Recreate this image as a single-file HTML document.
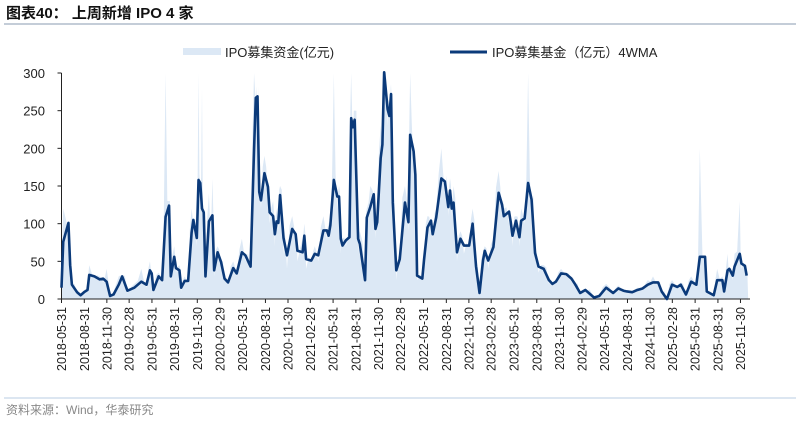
<!DOCTYPE html>
<html><head><meta charset="utf-8">
<style>
body{margin:0;background:#fff;width:800px;height:423px;overflow:hidden;font-family:"Liberation Sans","Noto Sans CJK SC",sans-serif;}
</style></head>
<body>
<svg id="c" width="800" height="423" viewBox="0 0 800 423" xmlns="http://www.w3.org/2000/svg" font-family="Liberation Sans, Noto Sans CJK SC, sans-serif">
<text x="6" y="18" font-size="15" font-weight="bold" fill="#111">图表40：  上周新增 IPO 4 家</text>
<line x1="4" y1="24" x2="796" y2="24" stroke="#8a9bb0" stroke-width="1"/>
<g>
<rect x="183" y="48" width="38" height="7" fill="#dce8f5"/>
<text x="225" y="57" font-size="13" fill="#222">IPO募集资金(亿元)</text>
<line x1="450" y1="52" x2="487" y2="52" stroke="#0b3a7a" stroke-width="3"/>
<text x="492" y="57" font-size="13" fill="#222">IPO募集基金（亿元）4WMA</text>
</g>
<g id="plot"></g>
<line x1="4" y1="398" x2="796" y2="398" stroke="#b8cde3" stroke-width="1"/>
<text x="6" y="414" font-size="12" fill="#888">资料来源：Wind，华泰研究</text>
</svg>
<script>
const weeks=[0,1,4,5,6,9,11,13,15,16,19,22,24,26,28,30,33,35,38,42,46,49,51,52,53,56,58,60,62,63,65,66,68,69,71,73,75,76,78,79,80,81,82,83,85,86,87,88,90,92,94,96,99,101,104,106,109,111,112,113,114,115,117,119,120,122,123,124,125,126,128,130,133,135,136,139,140,141,144,146,148,151,153,154,155,157,159,160,161,162,164,166,167,168,169,171,172,175,176,178,180,181,182,184,185,186,188,189,190,191,193,195,198,200,201,203,204,205,208,209,211,213,214,216,219,221,223,224,225,226,228,230,232,235,237,239,241,243,244,246,249,252,254,255,258,259,260,262,264,265,267,269,271,273,275,278,281,283,285,288,291,294,296,299,302,307,310,314,318,321,324,326,329,332,335,338,341,344,346,349,352,355,357,360,363,366,368,371,372,376,378,381,382,384,385,387,388,391,392,394,395];
const wma=[15,76,101,45,19,9,5,9,12,32,30,26,27,23,4,6,19,30,11,15,23,19,38,34,12,30,25,109,124,30,56,41,38,15,24,24,88,105,81,158,154,120,115,30,103,107,111,38,62,49,27,22,41,34,62,58,43,198,267,269,142,131,167,149,115,110,86,103,101,138,81,58,93,86,64,62,84,53,51,60,58,91,91,84,98,158,136,136,80,71,78,82,240,228,238,80,73,25,108,122,139,93,102,187,205,301,252,243,272,128,38,53,128,102,218,196,165,31,27,52,95,104,86,108,160,156,122,144,120,128,62,80,71,71,100,43,8,51,64,51,69,141,125,110,116,102,84,104,82,104,107,154,132,61,43,40,25,20,23,34,33,27,20,8,12,2,4,15,8,14,11,10,9,12,14,19,22,22,10,0,19,16,19,6,23,19,56,56,10,5,25,25,10,38,40,31,43,60,47,44,31];
const raised=[60,120,90,40,20,8,3,12,15,45,28,30,22,40,3,10,30,25,8,20,40,15,50,20,10,35,20,300,130,25,70,35,45,10,30,20,120,90,70,300,150,280,100,25,140,90,160,30,70,40,25,20,50,30,80,50,40,300,260,220,150,120,190,140,100,130,70,120,90,150,60,40,110,70,50,80,100,40,50,70,50,110,80,100,90,300,120,150,60,80,70,90,300,200,250,60,90,20,120,150,140,80,120,230,220,300,230,260,250,100,25,60,150,90,300,180,150,25,30,60,110,90,80,120,200,140,110,160,110,150,50,90,60,70,120,30,5,60,70,40,80,170,110,120,100,90,70,110,70,120,100,300,110,50,35,45,20,18,25,40,30,22,15,5,10,2,5,20,6,18,10,12,8,15,12,25,30,20,8,0,25,15,22,4,30,20,200,40,8,4,40,30,8,60,35,25,60,130,40,40,30];
const yTicks=[0,50,100,150,200,250,300];
const xLabels=["2018-05-31","2018-08-31","2018-11-30","2019-02-28","2019-05-31","2019-08-31","2019-11-30","2020-02-29","2020-05-31","2020-08-31","2020-11-30","2021-02-28","2021-05-31","2021-08-31","2021-11-30","2022-02-28","2022-05-31","2022-08-31","2022-11-30","2023-02-28","2023-05-31","2023-08-31","2023-11-30","2024-02-29","2024-05-31","2024-08-31","2024-11-30","2025-02-28","2025-05-31","2025-08-31","2025-11-30"];
const X0=61.5,PXD=0.2478,Y0=299,PXV=0.7533;
const d0=Date.UTC(2018,4,31);
function xDay(d){return X0+d*PXD;}
function xWeek(w){return xDay(w*7);}
function y(v){return Y0-Math.min(v,301)*PXV;}
function dayOf(s){const p=s.split('-');return (Date.UTC(+p[0],+p[1]-1,+p[2])-d0)/86400000;}
const NS='http://www.w3.org/2000/svg';
const g=document.getElementById('plot');
function mk(t,a){const e=document.createElementNS(NS,t);for(const k in a)e.setAttribute(k,a[k]);g.appendChild(e);return e;}
let pts=[];
for(let i=0;i<weeks.length;i++){
  const xa=xWeek(weeks[i]), xb=i<weeks.length-1?xWeek(weeks[i+1]):xWeek(weeks[i])+1.5;
  const xm=(xa+xb)/2;
  const nxt=i<weeks.length-1?wma[i+1]:wma[i];
  pts.push(xa+','+y(raised[i]));pts.push(xm+','+y(Math.max(wma[i],nxt)*1.05));
}
let ad='M'+xWeek(weeks[0])+','+Y0+' L'+pts.join(' L')+' L'+(xWeek(weeks[weeks.length-1])+1.5)+','+Y0+' Z';
const area=mk('path',{d:ad,fill:'#dce8f5',stroke:'none'});


const ya=mk('line',{x1:X0,y1:y(300),x2:X0,y2:Y0,stroke:'#222','stroke-width':1});


yTicks.forEach(v=>{
  const t=mk('line',{x1:X0-4,y1:y(v),x2:X0,y2:y(v),stroke:'#222','stroke-width':1});
  
  
  const l=mk('text',{x:45,y:y(v)+5,'text-anchor':'end','font-size':13,fill:'#222'});
  l.textContent=v;
  
  
});
const xa=mk('line',{x1:X0,y1:Y0,x2:750,y2:Y0,stroke:'#222','stroke-width':1});


xLabels.forEach(s=>{
  const xx=xDay(dayOf(s));
  const t=mk('line',{x1:xx,y1:Y0,x2:xx,y2:Y0+4,stroke:'#222','stroke-width':1});
  
  
  const l=mk('text',{x:0,y:0,'text-anchor':'end','font-size':12.5,fill:'#222',transform:'translate('+(xx+4.5)+','+(Y0+8)+') rotate(-90)'});
  l.textContent=s;
  
  
});
const ld='M'+weeks.map((w,i)=>xWeek(w).toFixed(2)+','+y(wma[i]).toFixed(2)).join(' L');
const ln=mk('path',{d:ld,fill:'none',stroke:'#0b3a7a','stroke-width':2.6,'stroke-linejoin':'round'});


</script>
</body></html>
